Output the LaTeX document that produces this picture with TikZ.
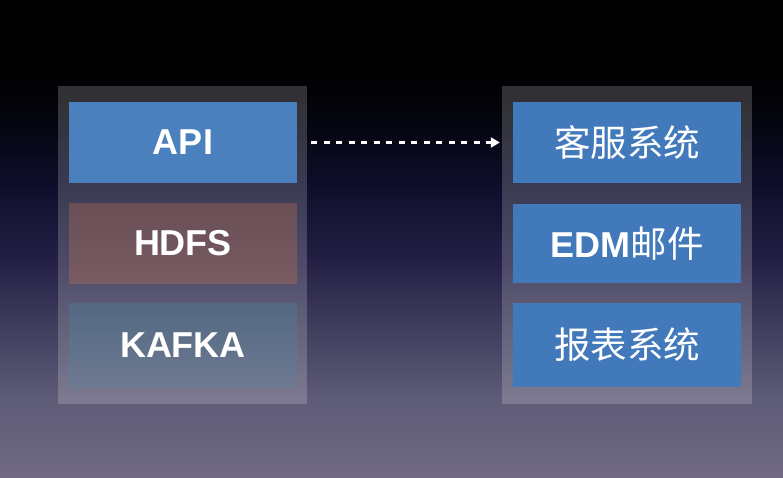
\documentclass[tikz,border=0pt]{standalone}
\usepackage{fontspec}
\setmainfont{Liberation Sans}
\newfontfamily\cjk{Noto Sans CJK SC}
\usetikzlibrary{arrows.meta}
\definecolor{apiblue}{RGB}{74,128,190}
\definecolor{rblue}{RGB}{66,121,187}
\definecolor{hdfsA}{RGB}{106,78,86}
\definecolor{hdfsB}{RGB}{120,92,98}
\definecolor{kafA}{RGB}{84,104,130}
\definecolor{kafB}{RGB}{110,122,146}
\pgfdeclareverticalshading{bgshade}{100bp}{%
  rgb(0bp)=(0.44,0.415,0.51);
  rgb(25bp)=(0.44,0.415,0.51);
  rgb(33bp)=(0.37,0.36,0.47);
  rgb(40.4bp)=(0.255,0.245,0.37);
  rgb(47.7bp)=(0.14,0.125,0.27);
  rgb(56.1bp)=(0.05,0.05,0.16);
  rgb(64.5bp)=(0.01,0.01,0.03);
  rgb(68.7bp)=(0,0,0);
  rgb(100bp)=(0,0,0)}
\tikzset{
  panel/.style={draw=none, fill=white, fill opacity=0.19, minimum width=249pt, minimum height=318pt, inner sep=0pt},
  box/.style={draw=none, minimum width=228pt, inner sep=0pt, text=white, text opacity=1, fill opacity=1},
  lat/.style={font=\fontsize{36}{38}\selectfont\bfseries},
  han/.style={font=\fontsize{36.5}{39}\selectfont\cjk},
  flow/.style={white, line width=3.2pt, dash pattern=on 6pt off 6.5pt, -{Triangle[length=9pt,width=10pt]}}
}
\begin{document}
\begin{tikzpicture}[x=1pt,y=-1pt]
\useasboundingbox (0,0) rectangle (783,477);
\shade[shading=bgshade] (0,0) rectangle (783,477);
\node[panel] (lp) at (182.5,245) {};
\node[panel, minimum width=250pt] (rp) at (627,245) {};
\node[box, lat, fill=apiblue, minimum height=81pt] (api) at (183,142.5) {API};
\node[box, lat, top color=hdfsA, bottom color=hdfsB, minimum height=80pt] (hdfs) at (183,243) {HDFS};
\node[box, lat, top color=kafA, bottom color=kafB, minimum height=84pt] (kafka) at (183,345) {KAFKA};
\node[box, han, fill=rblue, minimum height=81pt] (kf) at (627,142.5) {客服系统};
\node[box, fill=rblue, minimum height=79pt] (edm) at (627,243.5) {{\fontsize{36}{38}\selectfont\bfseries EDM}{\fontsize{36.5}{39}\selectfont\mdseries\cjk 邮件}};
\node[box, han, fill=rblue, minimum height=84pt] (bb) at (627,345) {报表系统};
\draw[flow, shorten <=14pt, shorten >=13pt] (api) -- (kf);
\end{tikzpicture}
\end{document}
